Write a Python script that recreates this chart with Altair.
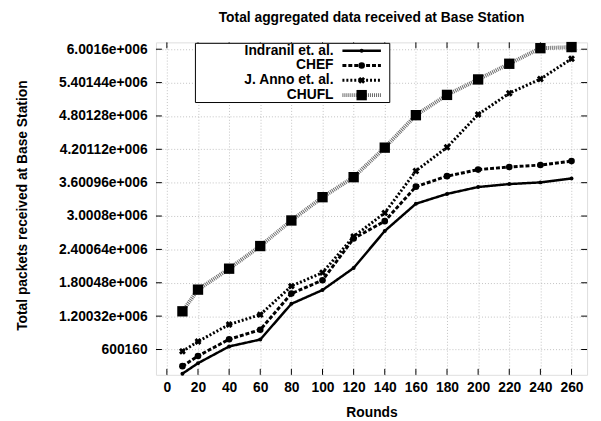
import altair as alt
import pandas as pd

# ---- data ----
rounds = [10, 20, 40, 60, 80, 100, 120, 140, 160, 180, 200, 220, 240, 260]
indranil = [165000, 354000, 655000, 779000, 1422000, 1670000, 2066000, 2732000,
            3222000, 3399000, 3523000, 3576000, 3606000, 3677000]
chef = [301000, 483000, 784000, 956000, 1606000, 1846000, 2597000, 2909000,
        3529000, 3718000, 3836000, 3883000, 3918000, 3989000]
anno = [567000, 744000, 1050000, 1227000, 1740000, 1983000, 2632000, 3057000,
        3812000, 4237000, 4828000, 5210000, 5465000, 5830000]
chufl = [1287000, 1677000, 2054000, 2461000, 2921000, 3340000, 3700000, 4231000,
         4815000, 5180000, 5458000, 5740000, 6020000, 6040000]
series_names = ["Indranil et. al.", "CHEF", "J. Anno et. al.", "CHUFL"]
x_ticks = [0, 20, 40, 60, 80, 100, 120, 140, 160, 180, 200, 220, 240, 260]
y_ticks = [600160, 1200320, 1800480, 2400640, 3000800, 3600960, 4201120,
           4801280, 5401440, 6001600]

FONT = "Liberation Sans"
W, H = 437, 337
X_DOMAIN = [-7, 270]
Y_DOMAIN = [145000, 6125000]

series_values = [indranil, chef, anno, chufl]
styles = [
    dict(color="black", width=2.5, dash=[1, 0], shape="circle", size=16, angle=0),
    dict(color="black", width=3, dash=[4, 2], shape="circle", size=45, angle=0),
    dict(color="black", width=3, dash=[2, 2], shape="cross", size=50, angle=45),
    dict(color="#6a6a6a", width=4, dash=[1, 1], shape="square", size=110, angle=0),
]

xs = alt.Scale(domain=X_DOMAIN, nice=False, zero=False)
ys = alt.Scale(domain=Y_DOMAIN, nice=False, zero=False)

label_expr = ("datum.value < 1000000 ? format(datum.value, 'd') : "
              "replace(format(datum.value, '.6~e'), 'e+6', 'e+006')")

x_axis = alt.Axis(values=x_ticks, title="Rounds", labelFont=FONT, labelFontSize=14,
                  labelFontWeight="bold", labelColor="black", labelPadding=6,
                  labelOverlap=False, labelBound=False,
                  tickSize=0, domain=False, grid=True, gridColor="#a8a8a8",
                  gridDash=[1, 2], gridWidth=0.7, titleFont=FONT, titleFontSize=14,
                  titleFontWeight="bold", titleColor="black", titleX=W / 2,
                  titleY=42, titleBaseline="alphabetic", titleAlign="center")
y_axis = alt.Axis(values=y_ticks, labelExpr=label_expr, title="Total packets received at Base Station",
                  labelFont=FONT, labelFontSize=14, labelFontWeight="bold", labelColor="black",
                  labelPadding=9, labelOverlap=False, labelBound=False,
                  tickSize=0, domain=False, grid=True, gridColor="#a8a8a8",
                  gridDash=[1, 2], gridWidth=0.7, titleFont=FONT, titleFontSize=14,
                  titleFontWeight="bold", titleColor="black", titleX=-131, titleY=165,
                  titleAngle=270, titleBaseline="alphabetic", titleAlign="center")

layers = []

# axes-carrying invisible base
base_df = pd.DataFrame({"r": rounds, "v": indranil})
layers.append(alt.Chart(base_df).mark_point(opacity=0).encode(
    x=alt.X("r:Q", scale=xs, axis=x_axis),
    y=alt.Y("v:Q", scale=ys, axis=y_axis),
))

# inside ticks (gnuplot style, all four sides)
xt_df = pd.DataFrame({"t": x_ticks})
yt_df = pd.DataFrame({"t": y_ticks})
for (ya, yb) in [(H, H - 6), (0, 6)]:
    layers.append(alt.Chart(xt_df).mark_rule(color="black", strokeWidth=1).encode(
        x=alt.X("t:Q", scale=xs, axis=x_axis), y=alt.value(ya), y2=alt.value(yb)))
for (xa, xb) in [(0, 6), (W, W - 6)]:
    layers.append(alt.Chart(yt_df).mark_rule(color="black", strokeWidth=1).encode(
        y=alt.Y("t:Q", scale=ys, axis=y_axis), x=alt.value(xa), x2=alt.value(xb)))

# data series
for name, vals, st in zip(series_names, series_values, styles):
    df = pd.DataFrame({"r": rounds, "v": vals})
    layers.append(alt.Chart(df).mark_line(color=st["color"], strokeWidth=st["width"],
                                          strokeDash=st["dash"]).encode(
        x=alt.X("r:Q", scale=xs, axis=x_axis), y=alt.Y("v:Q", scale=ys, axis=y_axis)))
    layers.append(alt.Chart(df).mark_point(filled=True, color="black", opacity=1,
                                           shape=st["shape"], size=st["size"],
                                           angle=st["angle"]).encode(
        x=alt.X("r:Q", scale=xs, axis=x_axis), y=alt.Y("v:Q", scale=ys, axis=y_axis)))

# legend box (top-left inside the plot)
one = pd.DataFrame({"a": [0]})
layers.append(alt.Chart(one).mark_rect(fill="white", stroke="black", strokeWidth=1).encode(
    x=alt.value(40), x2=alt.value(237), y=alt.value(1), y2=alt.value(61)))
for i, (name, st) in enumerate(zip(series_names, styles)):
    ly = 8.5 + 15 * i
    layers.append(alt.Chart(one).mark_text(text=name, align="right", baseline="middle",
                                           font=FONT, fontSize=14, fontWeight="bold",
                                           color="black").encode(
        x=alt.value(180), y=alt.value(ly)))
    layers.append(alt.Chart(one).mark_rule(color=st["color"], strokeWidth=st["width"],
                                           strokeDash=st["dash"]).encode(
        x=alt.value(189), x2=alt.value(228), y=alt.value(ly)))
    layers.append(alt.Chart(one).mark_point(filled=True, color="black", opacity=1,
                                            shape=st["shape"], size=st["size"],
                                            angle=st["angle"]).encode(
        x=alt.value(208.5), y=alt.value(ly)))

chart = alt.layer(*layers).properties(
    width=W, height=H,
    autosize=alt.AutoSizeParams(type="none"),
    padding={"left": 150, "top": 32, "right": 6, "bottom": 44},
    title=alt.Title("Total aggregated data received at Base Station", font=FONT,
                    fontSize=14, fontWeight="bold", color="black", anchor="middle",
                    offset=14),
).configure_view(stroke="black", strokeWidth=1).configure_axis(
    labelOverlap=False, labelBound=False
).configure(background="white")

chart.save("out.html", embed_options={"renderer": "svg", "actions": False})
